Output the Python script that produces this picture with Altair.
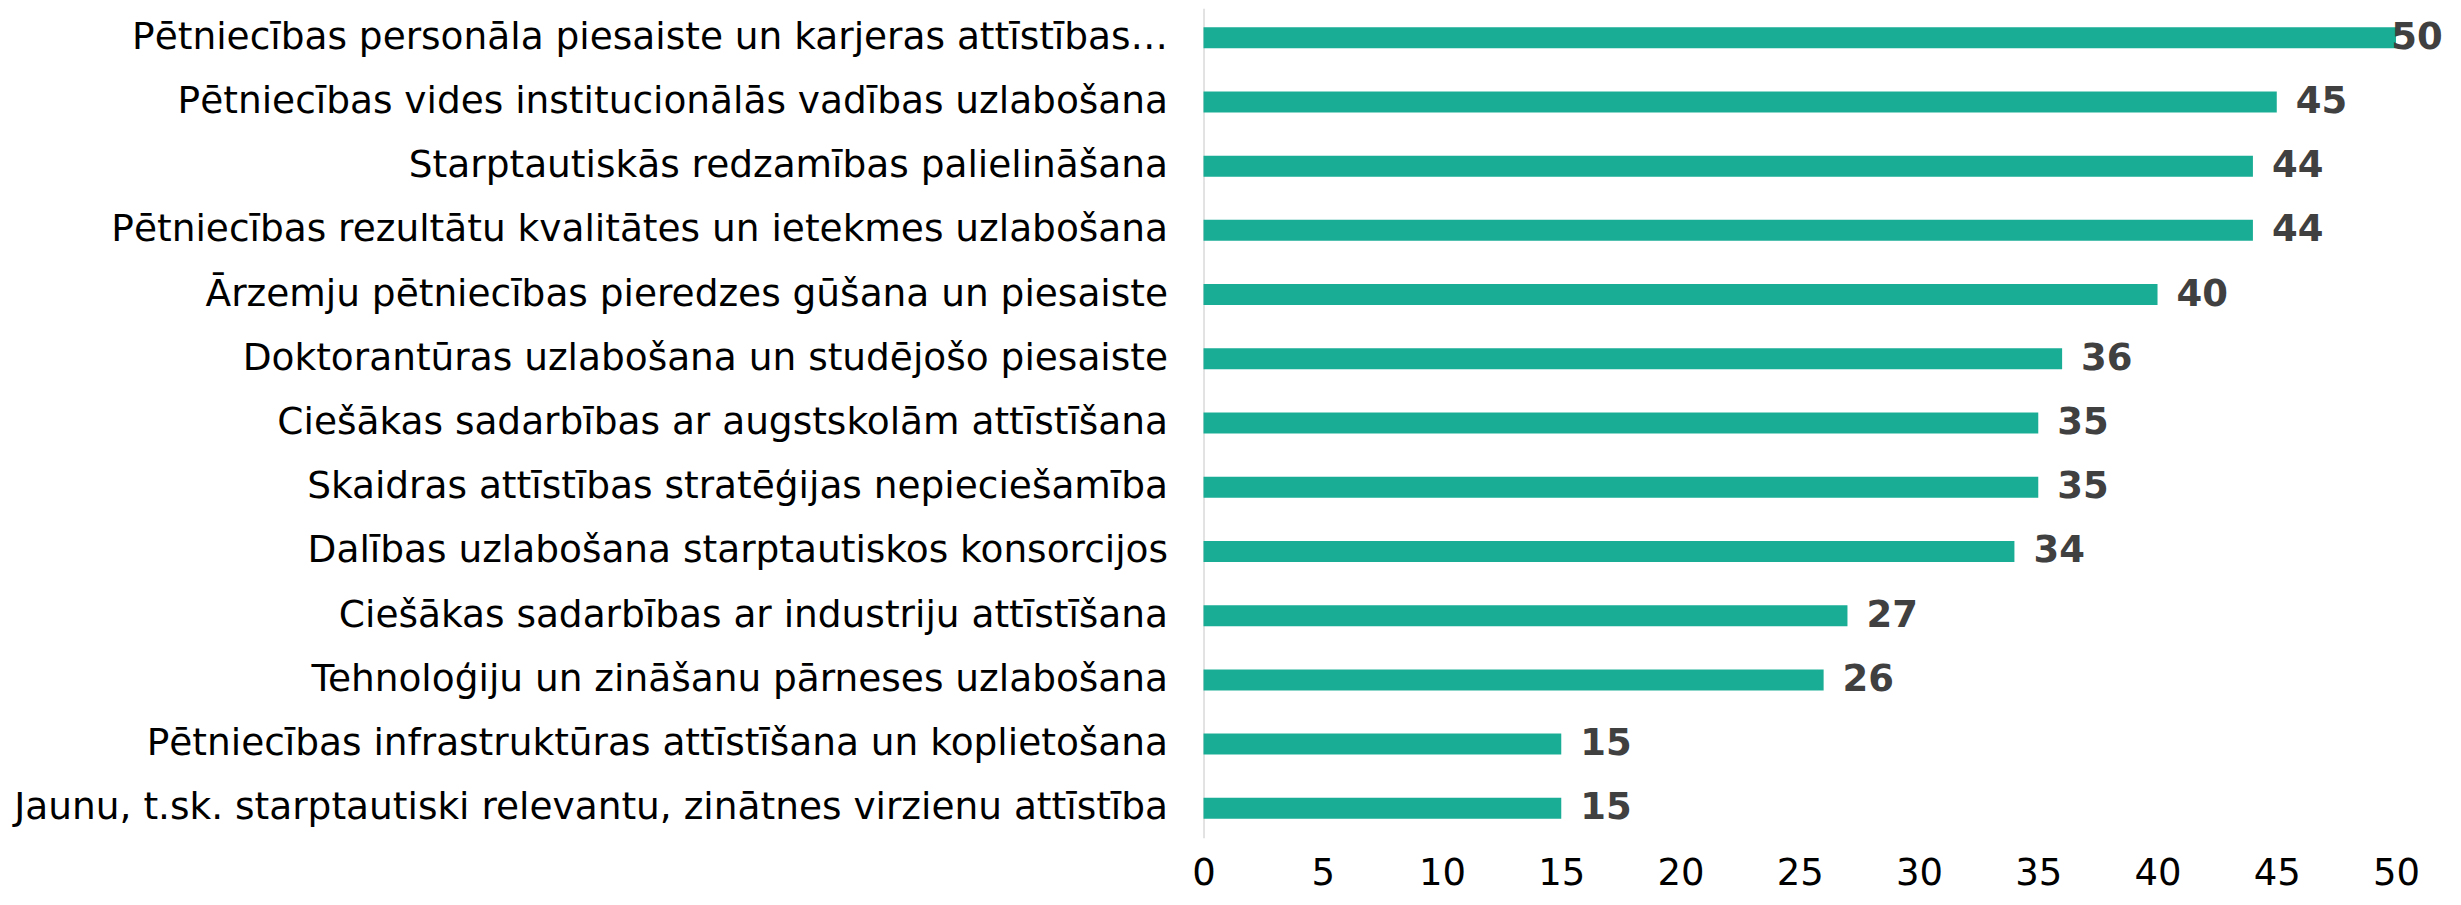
import altair as alt
import pandas as pd

categories = [
    "Pētniecības personāla piesaiste un karjeras attīstības…",
    "Pētniecības vides institucionālās vadības uzlabošana\u00a0",
    "Starptautiskās redzamības palielināšana",
    "Pētniecības rezultātu kvalitātes un ietekmes uzlabošana",
    "Ārzemju pētniecības pieredzes gūšana un piesaiste",
    "Doktorantūras uzlabošana un studējošo piesaiste",
    "Ciešākas sadarbības ar augstskolām attīstīšana",
    "Skaidras attīstības stratēģijas nepieciešamība",
    "Dalības uzlabošana starptautiskos konsorcijos",
    "Ciešākas sadarbības ar industriju attīstīšana",
    "Tehnoloģiju un zināšanu pārneses uzlabošana",
    "Pētniecības infrastruktūras attīstīšana un koplietošana",
    "Jaunu, t.sk. starptautiski relevantu, zinātnes virzienu attīstība",
]
values = [50, 45, 44, 44, 40, 36, 35, 35, 34, 27, 26, 15, 15]
x_ticks = [0, 5, 10, 15, 20, 25, 30, 35, 40, 45, 50]
x_domain = [0, 50]

df = pd.DataFrame({"category": categories, "value": values})

FONT = "DejaVu Sans"
BAR = "#1AAD96"

y_axis = alt.Axis(
    title=None,
    labelFont=FONT,
    labelFontSize=37.5,
    labelColor="#000000",
    labelPadding=36,
    ticks=False,
    tickSize=0,
    domainColor="#d9d9d9",
    domainWidth=1.5,
    labelLimit=1200,
)
y_scale = alt.Scale(paddingInner=0.673, paddingOuter=0.296)

x_axis = alt.Axis(
    title=None,
    values=x_ticks,
    grid=False,
    domain=False,
    ticks=False,
    tickSize=0,
    labelFont=FONT,
    labelFontSize=37,
    labelColor="#000000",
    labelPadding=18,
    labelFlush=False,
)
x_scale = alt.Scale(domain=x_domain, nice=False)

bars = alt.Chart(df).mark_bar(color=BAR).encode(
    x=alt.X("value:Q", scale=x_scale, axis=x_axis),
    y=alt.Y("category:N", sort=categories, scale=y_scale, axis=y_axis),
)

labels = (
    alt.Chart(df)
    .transform_calculate(lx="min(datum.value, 49)")
    .mark_text(
        align="left",
        baseline="middle",
        dx=19,
        font=FONT,
        fontSize=37,
        fontWeight="bold",
        color="#404040",
    )
    .encode(
        x=alt.X("lx:Q", scale=x_scale, axis=x_axis),
        y=alt.Y("category:N", sort=categories, scale=y_scale, axis=y_axis),
        text=alt.Text("value:Q"),
    )
)

chart = (
    alt.layer(bars, labels)
    .properties(
        width=1193,
        height=830,
        autosize=alt.AutoSizeParams(type="none"),
        padding={"left": 1196, "top": 0, "right": 57, "bottom": 59},
        background="#ffffff",
    )
    .configure_view(stroke=None)
)

chart.save("out.html", embed_options={"renderer": "svg", "actions": False})
